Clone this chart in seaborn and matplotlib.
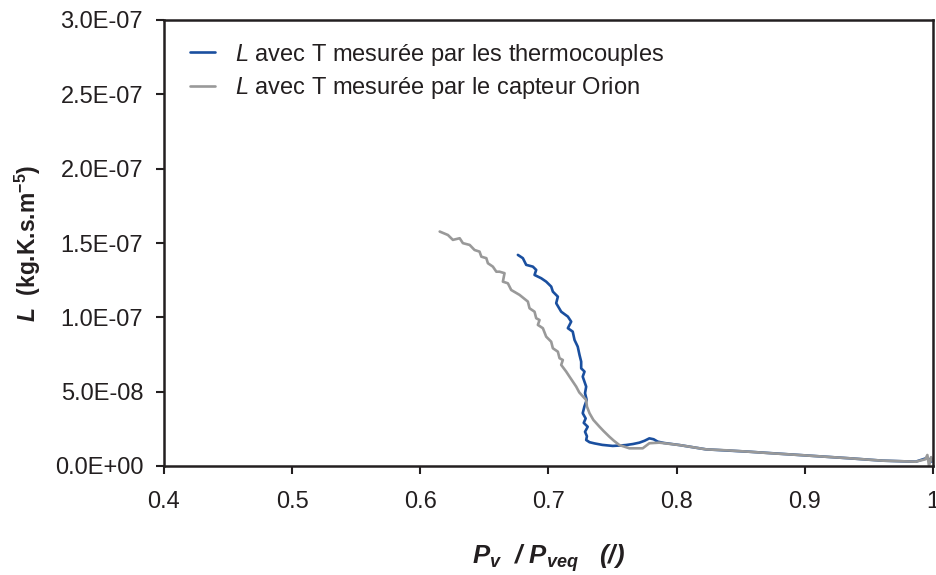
import matplotlib
matplotlib.use("Agg")
import matplotlib.pyplot as plt
import seaborn as sns
import pandas as pd

# ---- data ----
thermo_x = [0.6761, 0.6800, 0.6826, 0.6878, 0.6904, 0.6891, 0.6943, 0.6982, 0.7021,
            0.7034, 0.7073, 0.7060, 0.7099, 0.7151, 0.7177, 0.7151, 0.7189, 0.7203,
            0.7228, 0.7242, 0.7255, 0.7255, 0.7281, 0.7267, 0.7294, 0.7285, 0.7298,
            0.7280, 0.7267, 0.7290, 0.7275, 0.7306, 0.7285, 0.7300, 0.7294,
            0.7320, 0.7359, 0.7420, 0.7501, 0.7560, 0.7605, 0.7660, 0.7709, 0.7750,
            0.7787, 0.7820, 0.7852, 0.7900, 0.8021, 0.8229, 0.8566, 0.8956, 0.9346,
            0.9605, 0.9865, 0.9956, 0.9990]
thermo_y = [14.20, 13.98, 13.53, 13.41, 13.19, 12.85, 12.63, 12.40, 12.07,
            11.73, 11.39, 10.95, 10.38, 10.05, 9.71, 9.27, 9.04, 8.48,
            8.03, 7.47, 7.02, 6.57, 6.35, 6.01, 5.34, 4.90, 4.44,
            4.00, 3.55, 3.20, 2.90, 2.64, 2.30, 2.00, 1.75,
            1.60, 1.52, 1.42, 1.35, 1.38, 1.41, 1.48, 1.57, 1.70,
            1.86, 1.80, 1.64, 1.55, 1.41, 1.12, 0.96, 0.74, 0.52,
            0.36, 0.29, 0.55, 0.30]

orion_x = [0.6151, 0.6215, 0.6254, 0.6307, 0.6332, 0.6385, 0.6423, 0.6462, 0.6476,
           0.6515, 0.6527, 0.6566, 0.6593, 0.6618, 0.6657, 0.6644, 0.6683, 0.6709,
           0.6774, 0.6839, 0.6852, 0.6891, 0.6904, 0.6930, 0.6917, 0.6956, 0.6982,
           0.7021, 0.7034, 0.7073, 0.7086, 0.7112, 0.7099, 0.7138, 0.7164, 0.7216,
           0.7240, 0.7294, 0.7300, 0.7320, 0.7350, 0.7398, 0.7430, 0.7475, 0.7510,
           0.7553, 0.7631, 0.7735, 0.7787, 0.7865, 0.8021, 0.8229, 0.8400, 0.8566,
           0.8750, 0.8956, 0.9150, 0.9346, 0.9605, 0.9865, 0.9940, 0.9956, 0.9969,
           0.9985, 1.0000]
orion_y = [15.77, 15.54, 15.21, 15.32, 14.99, 14.87, 14.53, 14.42, 14.08,
           13.98, 13.64, 13.41, 13.07, 13.07, 12.97, 12.40, 12.29, 11.84,
           11.51, 11.06, 10.61, 10.38, 9.94, 9.82, 9.49, 9.27, 8.70,
           8.36, 7.92, 7.69, 7.25, 7.13, 6.80, 6.35, 6.01, 5.34,
           4.95, 4.44, 4.00, 3.55, 3.10, 2.64, 2.35, 1.97, 1.70,
           1.41, 1.19, 1.19, 1.53, 1.57, 1.41, 1.12, 1.05, 0.96,
           0.85, 0.74, 0.63, 0.52, 0.36, 0.29, 0.45, 0.74, 0.00,
           0.60, 0.30]

label_thermo = r"$\mathit{L}$ avec T mesurée par les thermocouples"
label_orion = r"$\mathit{L}$ avec T mesurée par le capteur Orion"

x_ticks = [0.4, 0.5, 0.6, 0.7, 0.8, 0.9, 1.0]
x_ticklabels = ["0.4", "0.5", "0.6", "0.7", "0.8", "0.9", "1"]
y_ticks = [0, 5e-8, 1e-7, 1.5e-7, 2e-7, 2.5e-7, 3e-7]
y_ticklabels = ["0.0E+00", "5.0E-08", "1.0E-07", "1.5E-07", "2.0E-07", "2.5E-07", "3.0E-07"]

# ---- styling ----
sns.set_theme(style="ticks")
plt.rcParams["font.family"] = ["Liberation Sans", "DejaVu Sans"]
plt.rcParams["mathtext.fontset"] = "custom"
plt.rcParams["mathtext.rm"] = "Liberation Sans"
plt.rcParams["mathtext.it"] = "Liberation Sans:italic"
plt.rcParams["mathtext.bf"] = "Liberation Sans:bold"
plt.rcParams["mathtext.bfit"] = "Liberation Sans:bold:italic"

dark = "#231f20"
blue = "#1a4f9f"
gray = "#999999"

df_t = pd.DataFrame({"x": thermo_x, "y": [v * 1e-8 for v in thermo_y]})
df_o = pd.DataFrame({"x": orion_x, "y": [v * 1e-8 for v in orion_y]})

fig = plt.figure(figsize=(9.36, 5.75), dpi=100)
ax = fig.add_axes([164 / 936, 1 - 466 / 575, (933 - 164) / 936, (466 - 20) / 575])

sns.lineplot(data=df_t, x="x", y="y", sort=False, estimator=None, color=blue,
             lw=1.9, ax=ax, label=label_thermo)
sns.lineplot(data=df_o, x="x", y="y", sort=False, estimator=None, color=gray,
             lw=1.9, ax=ax, label=label_orion)

ax.set_xlim(0.4, 1.0)
ax.set_ylim(0, 3e-7)
ax.set_xticks(x_ticks)
ax.set_xticklabels(x_ticklabels)
ax.set_yticks(y_ticks)
ax.set_yticklabels(y_ticklabels)

for s in ax.spines.values():
    s.set_visible(True)
    s.set_color(dark)
    s.set_linewidth(1.8)

ax.tick_params(axis="both", direction="out", length=6, width=1.5, color=dark,
               labelcolor=dark, labelsize=17)
ax.tick_params(axis="x", pad=12)
ax.tick_params(axis="y", pad=9)

ax.set_xlabel(r"$\mathbfit{P}_{\mathbfit{v}}\ \ \mathbfit{/}\ \mathbfit{P}_{\mathbfit{veq}}\ \ \ \mathbfit{(/)}$",
              fontsize=18.5, color=dark)
ax.xaxis.set_label_coords(0.5, -0.172)
ax.set_ylabel(r"$\mathbfit{L}$  (kg.K.s.m$^{\mathbf{-5}}$)", fontsize=16.5,
              fontweight="bold", color=dark)
ax.yaxis.set_label_coords(-0.157, 0.5)

leg = ax.legend(loc="upper left", frameon=False, fontsize=17, handlelength=1.05,
                handletextpad=0.85, labelspacing=0.3, bbox_to_anchor=(0.006, 0.999),
                labelcolor=dark)

fig.savefig("out.png", dpi=100)
